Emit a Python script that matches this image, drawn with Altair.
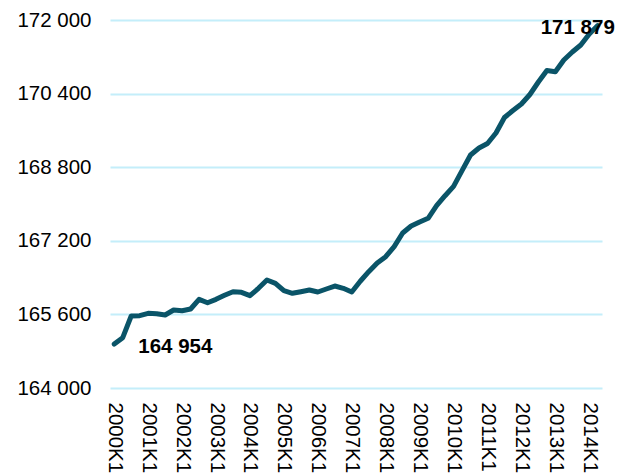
import altair as alt
import pandas as pd

years = list(range(2000, 2015))
quarters = [f"{y}K{q}" for y in years for q in range(1, 5)][:58]

values = [
    164954, 165094, 165565, 165572, 165624, 165615, 165587, 165696,
    165680, 165717, 165928, 165854, 165928, 166015, 166094, 166080,
    166007, 166167, 166348, 166276, 166115, 166059, 166094, 166130,
    166087, 166152, 166217, 166167, 166087, 166320, 166528, 166717,
    166854, 167074, 167370, 167522, 167609, 167689, 167963, 168180,
    168383, 168726, 169065, 169217, 169315, 169543, 169880, 170033,
    170174, 170380, 170652, 170902, 170874, 171130, 171304, 171457,
    171696, 171879,
]

tick_labels = [f"{y}K1" for y in years]
y_ticks = [164000, 165600, 167200, 168800, 170400, 172000]

ann_quarters = ["2000K1", "2014K2"]
ann_values = [164954, 171879]
ann_texts = ["164 954", "171 879"]

df = pd.DataFrame({"q": quarters, "v": values})
ann = pd.DataFrame({"q": ann_quarters, "v": ann_values, "t": ann_texts})

FONT = "Liberation Sans"

x_enc = alt.X(
    "q:O",
    sort=quarters,
    scale=alt.Scale(type="point", padding=0.5, domain=quarters),
    axis=alt.Axis(
        values=tick_labels,
        labelAngle=90,
        labelAlign="left",
        labelBaseline="middle",
        labelPadding=14,
        labelFontSize=20.5,
        labelFont=FONT,
        labelColor="#000000",
        labelOverlap=False,
        domain=False,
        ticks=False,
        grid=False,
        title=None,
    ),
)
y_enc = alt.Y(
    "v:Q",
    scale=alt.Scale(domain=[164000, 172000], nice=False, zero=False),
    axis=alt.Axis(
        values=y_ticks,
        labelExpr="replace(format(datum.value, ','), ',', ' ')",
        labelFontSize=20.5,
        labelFont=FONT,
        labelColor="#000000",
        labelPadding=19,
        domain=False,
        ticks=False,
        grid=True,
        gridColor="#c4eefa",
        gridWidth=2,
        title=None,
    ),
)

line = alt.Chart(df).mark_line(
    color="#0a5468", strokeWidth=5, strokeJoin="round", strokeCap="round"
).encode(x=x_enc, y=y_enc)

lab1 = alt.Chart(ann.iloc[[0]]).mark_text(
    align="left", baseline="alphabetic", dx=24, dy=9,
    fontSize=20.5, fontWeight="bold", font=FONT, color="#000000",
).encode(x=alt.X("q:O", sort=quarters), y="v:Q", text="t:N")

lab2 = alt.Chart(ann.iloc[[1]]).mark_text(
    align="center", baseline="alphabetic", dx=-20, dy=8,
    fontSize=20.5, fontWeight="bold", font=FONT, color="#000000",
).encode(x=alt.X("q:O", sort=quarters), y="v:Q", text="t:N")

chart = alt.layer(line, lab1, lab2).properties(
    width=492,
    height=368,
    autosize=alt.AutoSizeParams(type="none"),
    padding={"left": 102, "top": 12, "right": 17, "bottom": 86},
).configure_view(stroke=None)

chart.save("out.html", embed_options={"renderer": "svg", "actions": False})
